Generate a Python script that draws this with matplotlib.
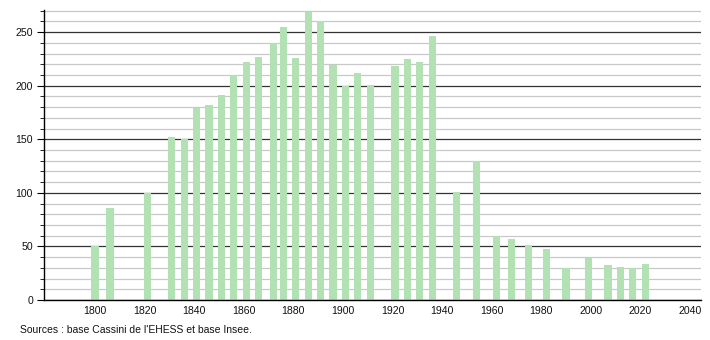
import numpy as np
import matplotlib.pyplot as plt
from matplotlib.ticker import MultipleLocator

# =========================
# DADOS
# =========================
annees = [1800, 1806, 1821, 1831, 1836, 1841, 1846, 1851, 1856, 1861,
          1866, 1872, 1876, 1881, 1886, 1891, 1896, 1901, 1906, 1911,
          1921, 1926, 1931, 1936, 1946, 1954, 1962, 1968, 1975, 1982,
          1990, 1999, 2007, 2012, 2017, 2022]
population = [50, 86, 100, 152, 150, 179, 182, 191, 210, 222,
              227, 240, 255, 226, 269, 260, 219, 200, 212, 201,
              218, 225, 222, 246, 101, 130, 60, 57, 51, 48,
              30, 39, 33, 31, 30, 34]
xticks = [1800, 1820, 1840, 1860, 1880, 1900, 1920, 1940, 1960, 1980, 2000, 2020, 2040]
source = "Sources : base Cassini de l'EHESS et base Insee."

plt.rcParams['font.family'] = ['Liberation Sans', 'DejaVu Sans']

# =========================
# FIGURA
# =========================
fig = plt.figure(figsize=(7.1, 3.4), dpi=100)
ax = fig.add_axes([0.062, 0.1176, 0.925, 0.8524])

ax.set_axisbelow(True)
ax.yaxis.set_major_locator(MultipleLocator(50))
ax.yaxis.set_minor_locator(MultipleLocator(10))
ax.grid(which='minor', axis='y', color='#c8c8c8', linewidth=0.9)
ax.grid(which='major', axis='y', color='#333333', linewidth=0.9)

ax.bar(annees, population, width=2.9, color='#b2e2b3', linewidth=0)

ax.set_xlim(1779.4, 2044.4)
ax.set_ylim(0, 270.5)
ax.set_xticks(xticks)

for s in ['top', 'right']:
    ax.spines[s].set_visible(False)
ax.spines['left'].set_linewidth(1.0)
ax.spines['bottom'].set_linewidth(1.0)

ax.tick_params(axis='x', length=0, labelsize=7.6, pad=4, labelcolor='#111111')
ax.tick_params(axis='y', which='major', length=5, labelsize=7.6, pad=3, labelcolor='#111111')
ax.tick_params(axis='y', which='minor', length=3)

fig.text(0.028, 0.022, source, fontsize=7.5, color='#111111')

fig.savefig('out.png', dpi=100)
